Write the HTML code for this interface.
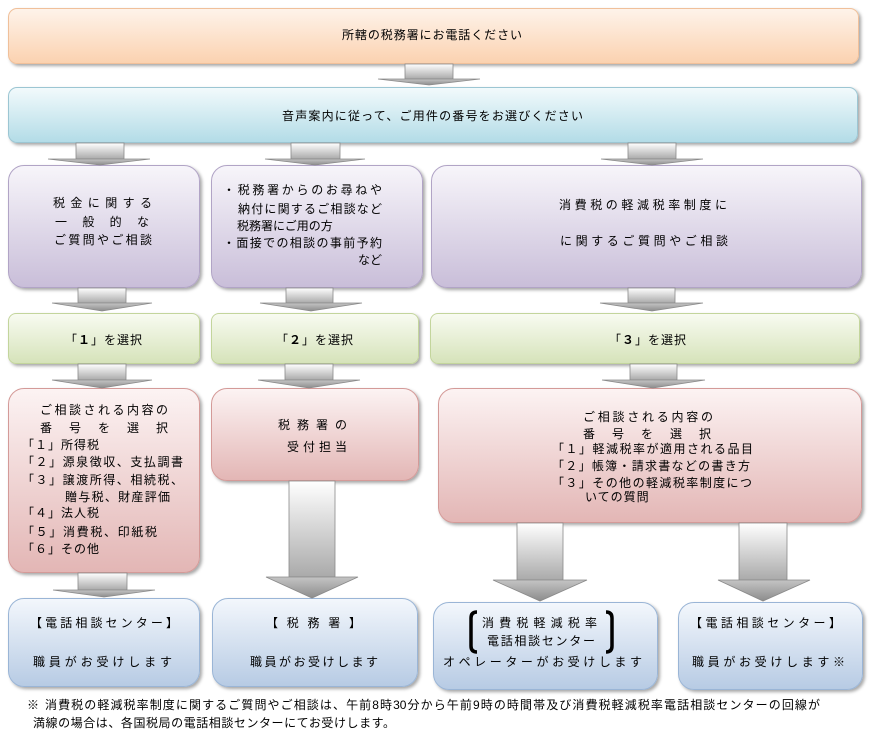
<!DOCTYPE html>
<html><head><meta charset="utf-8">
<style>
html,body{margin:0;padding:0;background:#fff;}
#c{position:relative;width:872px;height:737px;overflow:hidden;background:#fff;font-family:"Liberation Sans","Noto Sans CJK JP",sans-serif;color:#000;}
.b{position:absolute;box-sizing:border-box;box-shadow:2px 2px 3px rgba(0,0,0,0.35);}
.or{background:linear-gradient(#fef3ea,#fbd2b0);border:1px solid #f0c09a;border-radius:9px;}
.bl{background:linear-gradient(#f2fafc,#b3dce7);border:1px solid #9cc6d3;border-radius:9px;}
.pu{background:linear-gradient(#f7f5fa,#c9bed9);border:1px solid #b1a4c6;border-radius:16px;}
.gr{background:linear-gradient(#f8fbf1,#d6e3ba);border:1px solid #c3d59c;border-radius:8px;}
.pk{background:linear-gradient(#fcf3f3,#e3b6b5);border:1px solid #d49a98;border-radius:16px;}
.lb{background:linear-gradient(#f3f7fc,#b7cbe4);border:1px solid #9ab5d6;border-radius:16px;}
.t{position:absolute;font-size:12px;line-height:16px;height:16px;white-space:nowrap;}
.j{white-space:normal;text-align:justify;text-align-last:justify;overflow:visible;}
.c{text-align:center;letter-spacing:1px;}
b{font-weight:bold;}
svg{position:absolute;left:0;top:0;}
</style></head><body>
<div id="c">
<!-- boxes -->
<div class="b or" style="left:8px;top:8px;width:851px;height:56px;"></div>
<div class="b bl" style="left:8px;top:87px;width:850px;height:56px;"></div>

<div class="b pu" style="left:8px;top:165px;width:192px;height:123px;"></div>
<div class="b pu" style="left:211px;top:165px;width:212px;height:123px;"></div>
<div class="b pu" style="left:431px;top:165px;width:431px;height:123px;"></div>

<div class="b gr" style="left:8px;top:313px;width:192px;height:51px;"></div>
<div class="b gr" style="left:211px;top:313px;width:208px;height:51px;"></div>
<div class="b gr" style="left:430px;top:313px;width:430px;height:51px;"></div>

<div class="b pk" style="left:8px;top:388px;width:192px;height:185px;"></div>
<div class="b pk" style="left:211px;top:388px;width:208px;height:93px;"></div>
<div class="b pk" style="left:438px;top:388px;width:424px;height:135px;"></div>

<div class="b lb" style="left:8px;top:598px;width:192px;height:89px;"></div>
<div class="b lb" style="left:212px;top:598px;width:206px;height:89px;"></div>
<div class="b lb" style="left:433px;top:602px;width:225px;height:88px;"></div>
<div class="b lb" style="left:678px;top:602px;width:185px;height:88px;"></div>

<!-- arrows -->
<svg width="872" height="737" viewBox="0 0 872 737">
<defs>
<linearGradient id="gs" x1="0" y1="0" x2="0" y2="1"><stop offset="0" stop-color="#ffffff"/><stop offset="1" stop-color="#aaaaaa"/></linearGradient>
<linearGradient id="gh" x1="0" y1="0" x2="0" y2="1"><stop offset="0" stop-color="#c4c4c4"/><stop offset="1" stop-color="#8c8c8c"/></linearGradient>
</defs>
<g stroke="#8a8a8a" stroke-width="0.8">
<rect x="405" y="64" width="48" height="15" fill="url(#gs)"/>
<polygon points="378,79 480,79 429,85" fill="url(#gh)"/>
<rect x="76" y="143" width="48" height="16" fill="url(#gs)"/>
<polygon points="48,159 150,159 100,165" fill="url(#gh)"/>
<rect x="291" y="143" width="49" height="16" fill="url(#gs)"/>
<polygon points="265,159 365,159 315,165" fill="url(#gh)"/>
<rect x="628" y="143" width="48" height="16" fill="url(#gs)"/>
<polygon points="601,159 703,159 652,165" fill="url(#gh)"/>
<rect x="78" y="288" width="48" height="15" fill="url(#gs)"/>
<polygon points="52,303 152,303 102,311" fill="url(#gh)"/>
<rect x="286" y="288" width="47" height="15" fill="url(#gs)"/>
<polygon points="260,303 362,303 311,311" fill="url(#gh)"/>
<rect x="628" y="288" width="47" height="15" fill="url(#gs)"/>
<polygon points="600,303 703,303 652,311" fill="url(#gh)"/>
<rect x="78" y="364" width="48" height="16" fill="url(#gs)"/>
<polygon points="52,380 152,380 102,388" fill="url(#gh)"/>
<rect x="285" y="364" width="48" height="16" fill="url(#gs)"/>
<polygon points="258,380 360,380 309,388" fill="url(#gh)"/>
<rect x="630" y="364" width="47" height="16" fill="url(#gs)"/>
<polygon points="602,380 705,380 653,388" fill="url(#gh)"/>
<rect x="78" y="573" width="49" height="17" fill="url(#gs)"/>
<polygon points="53,590 155,590 104,597" fill="url(#gh)"/>
<rect x="289" y="481" width="46" height="96" fill="url(#gs)"/>
<polygon points="266,577 358,577 312,598" fill="url(#gh)"/>
<rect x="517" y="523" width="46" height="57" fill="url(#gs)"/>
<polygon points="493,580 587,580 540,601" fill="url(#gh)"/>
<rect x="739" y="523" width="48" height="57" fill="url(#gs)"/>
<polygon points="718,580 810,580 763,601" fill="url(#gh)"/>
</g>
<path d="M477,612 Q471,612 471,618 L471,646 Q471,652 477,652" fill="none" stroke="#000" stroke-width="3.5"/>
<path d="M606,612 Q612,612 612,618 L612,646 Q612,652 606,652" fill="none" stroke="#000" stroke-width="3.5"/>
</svg>

<!-- texts -->
<div class="t j" style="left:342px;top:27px;width:180px;">所轄の税務署にお電話ください</div>
<div class="t j" style="left:282px;top:108px;width:301px;">音声案内に従って、ご用件の番号をお選びください</div>

<div class="t j" style="left:53px;top:195px;width:99px;">税金に関する</div>
<div class="t j" style="left:55px;top:214px;width:94px;">一般的な</div>
<div class="t j" style="left:54px;top:232px;width:98px;">ご質問やご相談</div>

<div class="t j" style="left:223px;top:182px;width:159px;">・税務署からのお尋ねや</div>
<div class="t j" style="left:238px;top:201px;width:144px;">納付に関するご相談など</div>
<div class="t" style="left:237px;top:218px;">税務署にご用の方</div>
<div class="t j" style="left:223px;top:235px;width:159px;">・面接での相談の事前予約</div>
<div class="t j" style="left:358px;top:252px;width:24px;">など</div>

<div class="t j" style="left:559px;top:197px;width:168px;">消費税の軽減税率制度に</div>
<div class="t j" style="left:560px;top:233px;width:168px;">に関するご質問やご相談</div>

<div class="t c" style="left:8px;top:332px;width:192px;">「<b>１</b>」を選択</div>
<div class="t c" style="left:211px;top:332px;width:208px;">「<b>２</b>」を選択</div>
<div class="t c" style="left:430px;top:332px;width:436px;">「<b>３</b>」を選択</div>

<div class="t j" style="left:40px;top:402px;width:128px;">ご相談される内容の</div>
<div class="t j" style="left:40px;top:420px;width:128px;">番号を選択</div>
<div class="t" style="left:22px;top:437px;letter-spacing:1px;">「１」所得税</div>
<div class="t j" style="left:22px;top:454px;width:161px;">「２」源泉徴収、支払調書</div>
<div class="t j" style="left:22px;top:472px;width:161px;">「３」譲渡所得、相続税、</div>
<div class="t j" style="left:65px;top:489px;width:105px;">贈与税、財産評価</div>
<div class="t" style="left:22px;top:505px;letter-spacing:1px;">「４」法人税</div>
<div class="t j" style="left:22px;top:524px;width:135px;">「５」消費税、印紙税</div>
<div class="t" style="left:22px;top:541px;letter-spacing:1px;">「６」その他</div>

<div class="t j" style="left:278px;top:417px;width:69px;">税務署の</div>
<div class="t j" style="left:287px;top:439px;width:60px;">受付担当</div>

<div class="t j" style="left:583px;top:409px;width:130px;">ご相談される内容の</div>
<div class="t j" style="left:583px;top:426px;width:128px;">番号を選択</div>
<div class="t j" style="left:552px;top:441px;width:201px;">「１」軽減税率が適用される品目</div>
<div class="t j" style="left:552px;top:458px;width:198px;">「２」帳簿・請求書などの書き方</div>
<div class="t j" style="left:552px;top:475px;width:200px;">「３」その他の軽減税率制度につ</div>
<div class="t" style="left:585px;top:489px;letter-spacing:1px;">いての質問</div>

<div class="t j" style="left:30px;top:615px;width:148px;">【電話相談センター】</div>
<div class="t j" style="left:33px;top:654px;width:139px;">職員がお受けします</div>

<div class="t j" style="left:266px;top:615px;width:95px;">【税務署】</div>
<div class="t j" style="left:250px;top:654px;width:128px;">職員がお受けします</div>

<div class="t j" style="left:482px;top:615px;width:115px;">消費税軽減税率</div>
<div class="t j" style="left:487px;top:633px;width:108px;">電話相談センター</div>
<div class="t j" style="left:443px;top:654px;width:199px;">オペレーターがお受けします</div>

<div class="t j" style="left:690px;top:615px;width:151px;">【電話相談センター】</div>
<div class="t j" style="left:692px;top:654px;width:153px;">職員がお受けします※</div>

<div class="t" style="left:27px;top:697px;">※</div>
<div class="t j" style="left:45px;top:697px;width:775px;">消費税の軽減税率制度に関するご質問やご相談は、午前8時30分から午前9時の時間帯及び消費税軽減税率電話相談センターの回線が</div>
<div class="t j" style="left:33px;top:715px;width:362px;">満線の場合は、各国税局の電話相談センターにてお受けします。</div>
</div>
</body></html>
